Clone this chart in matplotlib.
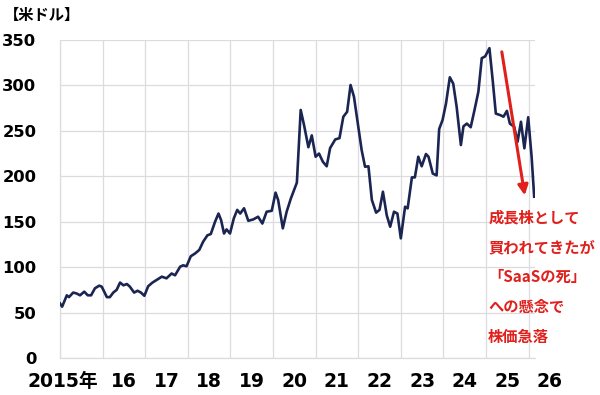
import matplotlib
matplotlib.use('Agg')
import matplotlib.pyplot as plt
import matplotlib.transforms as mtransforms

# Stock price (USD)
years = [
    2015.00, 2015.05, 2015.16, 2015.21, 2015.31, 2015.39, 2015.47, 2015.57, 2015.65, 2015.73,
    2015.82, 2015.92, 2015.98, 2016.06, 2016.10, 2016.17, 2016.25, 2016.33, 2016.41, 2016.49,
    2016.57, 2016.64, 2016.74, 2016.82, 2016.90, 2016.98, 2017.07, 2017.17, 2017.27, 2017.39,
    2017.50, 2017.62, 2017.70, 2017.82, 2017.89, 2017.97, 2018.07, 2018.17, 2018.27, 2018.36,
    2018.46, 2018.54, 2018.64, 2018.72, 2018.78, 2018.85, 2018.91, 2018.99, 2019.08, 2019.16,
    2019.23, 2019.32, 2019.42, 2019.54, 2019.65, 2019.75, 2019.85, 2019.97, 2020.06, 2020.12,
    2020.23, 2020.32, 2020.42, 2020.56, 2020.65, 2020.73, 2020.83, 2020.91, 2021.00, 2021.08,
    2021.17, 2021.26, 2021.34, 2021.46, 2021.56, 2021.65, 2021.74, 2021.82, 2021.90, 2022.00,
    2022.08, 2022.16, 2022.24, 2022.32, 2022.42, 2022.50, 2022.58, 2022.67, 2022.75, 2022.84,
    2022.92, 2023.00, 2023.10, 2023.16, 2023.26, 2023.33, 2023.41, 2023.49, 2023.59, 2023.65,
    2023.75, 2023.84, 2023.90, 2023.98, 2024.06, 2024.15, 2024.23, 2024.31, 2024.41, 2024.47,
    2024.55, 2024.64, 2024.73, 2024.82, 2024.90, 2024.98, 2025.08, 2025.16, 2025.23, 2025.33,
    2025.41, 2025.49, 2025.56, 2025.66, 2025.74, 2025.82, 2025.90, 2025.99, 2026.07, 2026.13,
]
prices = [
    60, 56.5, 69, 67, 72, 71, 69, 73, 69, 69,
    76.7, 79.6, 78.5, 71, 67, 67, 72, 75, 83, 80,
    81.4, 78.5, 72, 74, 72, 68.5, 79, 83, 86, 89.5,
    87.7, 93, 91, 100.5, 102, 101, 112, 115, 119, 128,
    135, 136.5, 150, 159, 152, 137, 141.5, 137, 153.7, 163,
    159, 164.8, 151, 152.6, 155.5, 148, 161, 162, 182, 174,
    142.7, 161, 175.7, 193, 273, 256, 232, 245, 221.5, 225,
    216, 211, 231, 240.5, 242, 265.5, 271, 300.5, 287.6, 254.6,
    229, 210.5, 211, 174, 160, 163, 183, 157, 144.5, 161,
    159, 131.7, 166.5, 164.7, 198.8, 198.8, 221.5, 211, 224.5, 221.5,
    203, 201, 252, 262, 280, 309, 302, 276.6, 234.4, 255,
    258, 254, 273, 293, 330, 332, 341, 304, 269, 267.4,
    265.6, 272, 258, 254.6, 238, 260, 230.8, 265, 221.5, 177.5,
]

year_labels = ['2015年', '16', '17', '18', '19', '20', '21', '22', '23', '24', '25', '26']
y_ticks = [0, 50, 100, 150, 200, 250, 300, 350]
note = '成長株として\n買われてきたが\n「SaaSの死」\nへの懸念で\n株価急落'

plt.rcParams['font.family'] = ['DejaVu Sans', 'Noto Sans CJK JP']

fig = plt.figure(figsize=(6.0, 3.95), dpi=100)
ax = fig.add_axes([0.1, 0.0937, 0.7917, 0.805])

ax.plot(years, prices, color='#1b2552', linewidth=1.9, zorder=3)

ax.set_xlim(2015, 2026.15)
ax.set_ylim(0, 350)
ax.set_yticks(y_ticks)
ax.set_xticks(range(2015, 2027))
ax.set_xticklabels([])
ax.grid(True, color='#dcdce0', linewidth=0.9)
ax.set_axisbelow(True)
ax.tick_params(axis='both', length=0)
ax.tick_params(axis='y', labelsize=11.8, pad=17)
for lbl in ax.get_yticklabels():
    lbl.set_fontweight('bold')
for side in ['top', 'right']:
    ax.spines[side].set_visible(False)
for side in ['left', 'bottom']:
    ax.spines[side].set_color('#dcdce0')
    ax.spines[side].set_linewidth(0.9)

# year labels sit between the yearly gridlines
trans = mtransforms.blended_transform_factory(ax.transData, ax.transAxes)
label_pos = [2015 + i + 0.5 for i in range(len(year_labels))]
label_pos[0] = 2015.06
for pos, lbl in zip(label_pos, year_labels):
    ax.text(pos, -0.075, lbl, transform=trans, ha='center', va='center',
            fontsize=13.5, fontweight='bold', clip_on=False)

fig.text(0.006, 0.963, '【米ドル】', fontsize=11, fontweight='bold',
         family=['Noto Sans CJK JP', 'DejaVu Sans'], va='center', ha='left')

# red arrow and note
ax.annotate('', xy=(2025.92, 176), xytext=(2025.36, 340),
            arrowprops=dict(arrowstyle='-|>,head_width=0.3,head_length=0.6',
                            color='#e0201c', linewidth=2.2), zorder=4)
ax.text(2025.05, 163, note, color='#e0201c', fontsize=11, fontweight='bold',
        family=['Noto Sans CJK JP', 'DejaVu Sans'], ha='left', va='top',
        linespacing=2.05, clip_on=False, zorder=5)

fig.savefig('out.png', dpi=100)
